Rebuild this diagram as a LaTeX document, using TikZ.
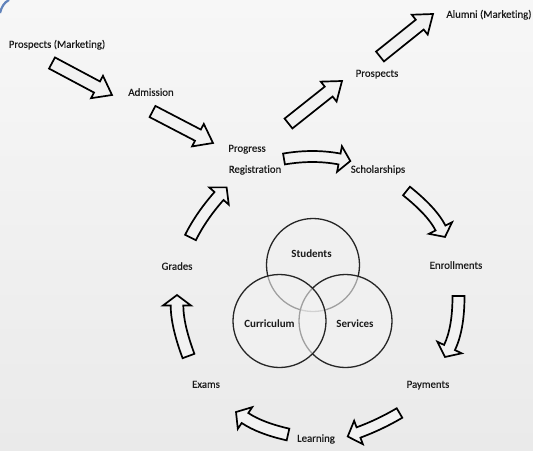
\documentclass[tikz,border=0pt]{standalone}
\usepackage{fontspec}
\setmainfont{Carlito}[Ligatures=NoCommon]
\newfontface\lblfont{Carlito}[FakeBold=0.35, Ligatures=NoCommon]
\usetikzlibrary{calc}
\definecolor{bgtop}{HTML}{F7F7F7}
\definecolor{bgbot}{HTML}{EAEAEA}
\definecolor{bgmid}{HTML}{F2F2F2}
\definecolor{txt}{HTML}{1A1A1A}
\definecolor{cornerblue}{HTML}{2F5DA8}
\tikzset{
  lbl/.style={font=\fontsize{10.8}{13}\lblfont, text=txt, inner sep=0pt, text height=7.5pt, text depth=2pt},
  vlbl/.style={font=\fontsize{11}{13}\selectfont\bfseries, text=txt, inner sep=0pt, text height=7.5pt, text depth=2pt},
  blk/.style={draw=black, line width=1.7pt, fill=bgmid, line join=miter},
  venn/.style={draw=black!85, line width=1.3pt},
  vennover/.style={venn, fill=bgmid, fill opacity=0.6},
}
% curved block arrow: tail, control, head base, head length, shaft half width, head half width
\newcommand\carrow[6]{%
  \coordinate (aT) at #1; \coordinate (aC) at #2; \coordinate (aB) at #3;
  \coordinate (aH) at ($(aB)!-#4!(aC)$);
  \coordinate (aTL) at ($(aT)!#5!90:(aC)$);
  \coordinate (aTR) at ($(aT)!#5!-90:(aC)$);
  \coordinate (aBL) at ($(aB)!#5!-90:(aC)$);
  \coordinate (aBR) at ($(aB)!#5!90:(aC)$);
  \coordinate (aHL) at ($(aB)!#6!-90:(aC)$);
  \coordinate (aHR) at ($(aB)!#6!90:(aC)$);
  \coordinate (aTLx) at ($(aTL)+(aC)-(aT)$);
  \coordinate (aBLx) at ($(aBL)+(aC)-(aB)$);
  \coordinate (aTRx) at ($(aTR)+(aC)-(aT)$);
  \coordinate (aBRx) at ($(aBR)+(aC)-(aB)$);
  \coordinate (aCL) at (intersection of aTL--aTLx and aBL--aBLx);
  \coordinate (aCR) at (intersection of aTR--aTRx and aBR--aBRx);
  \draw[blk] (aTR) -- (aTL) .. controls ($(aTL)!2/3!(aCL)$) and ($(aBL)!2/3!(aCL)$) .. (aBL)
    -- (aHL) -- (aH) -- (aHR) -- (aBR)
    .. controls ($(aBR)!2/3!(aCR)$) and ($(aTR)!2/3!(aCR)$) .. (aTR) -- cycle;
}
% straight block arrow: tail, tip, head length, shaft half width, head half width
\newcommand\sarrow[5]{%
  \coordinate (aT) at #1; \coordinate (aH) at #2;
  \coordinate (aB) at ($(aH)!#3!(aT)$);
  \coordinate (aTL) at ($(aT)!#4!90:(aH)$);
  \coordinate (aTR) at ($(aT)!#4!-90:(aH)$);
  \coordinate (aBL) at ($(aB)!#4!-90:(aT)$);
  \coordinate (aBR) at ($(aB)!#4!90:(aT)$);
  \coordinate (aHL) at ($(aB)!#5!-90:(aT)$);
  \coordinate (aHR) at ($(aB)!#5!90:(aT)$);
  \draw[blk] (aTR) -- (aTL) -- (aBL) -- (aHL) -- (aH) -- (aHR) -- (aBR) -- cycle;
}
\begin{document}
\begin{tikzpicture}[x=1pt,y=-1pt]
\useasboundingbox (0,0) rectangle (533,450);
\shade[top color=bgtop, bottom color=bgbot] (0,0) rectangle (533,450);
\draw[cornerblue, line width=2.2pt, opacity=0.75] (0,13) .. controls (1.5,7) and (4,2.5) .. (9,0);

% labels
\node[lbl] (pm) at (57,45) {Prospects (Marketing)};
\node[lbl] (adm) at (151,93) {Admission};
\node[lbl] (prog) at (247,149) {Progress};
\node[lbl] (reg) at (255,170) {Registration};
\node[lbl] (sch) at (378,170) {Scholarships};
\node[lbl] (pros) at (377,74) {Prospects};
\node[lbl] (alu) at (489,15) {Alumni (Marketing)};
\node[lbl] (enr) at (456,266) {Enrollments};
\node[lbl] (pay) at (428,385) {Payments};
\node[lbl] (lea) at (316,439) {Learning};
\node[lbl] (exa) at (206,385) {Exams};
\node[lbl] (gra) at (177,267) {Grades};

% straight arrows
\sarrow{(52,63)}{(112,95)}{17pt}{6.3pt}{12.7pt}
\sarrow{(152.5,111.5)}{(213,143)}{17pt}{6.3pt}{12.7pt}
\sarrow{(288.5,123.5)}{(342,81)}{17pt}{6.3pt}{12.7pt}
\sarrow{(380,56.5)}{(433,14)}{17pt}{6.3pt}{12.7pt}

% curved cycle arrows
\carrow{(284,159)}{(313,154)}{(339.5,159)}{11pt}{5.5pt}{13pt}
\carrow{(406.5,191)}{(432.3,211.7)}{(440.5,228)}{10pt}{5.5pt}{13pt}
\carrow{(458.5,296)}{(458.5,328.6)}{(449.5,347.5)}{10.5pt}{6pt}{13.5pt}
\carrow{(399.5,413)}{(380,424.5)}{(358.5,432.5)}{11.5pt}{5.5pt}{12.5pt}
\carrow{(288,434.5)}{(260.5,428.3)}{(245,418)}{10.8pt}{6pt}{13pt}
\carrow{(188.5,356)}{(177,325.1)}{(177,305.5)}{10.5pt}{6.3pt}{14pt}
\carrow{(190.5,237.5)}{(201,216.4)}{(219,196)}{11.5pt}{6pt}{13pt}

% venn
\draw[venn] (313,265) circle (46.5);
\draw[vennover] (345.5,321) circle (46.5);
\draw[vennover] (279.5,321) circle (46.5);
\node[vlbl] (stu) at (311.5,255) {Students};
\node[vlbl] (cur) at (269.5,325) {Curriculum};
\node[vlbl] (ser) at (355,325) {Services};
\end{tikzpicture}
\end{document}
